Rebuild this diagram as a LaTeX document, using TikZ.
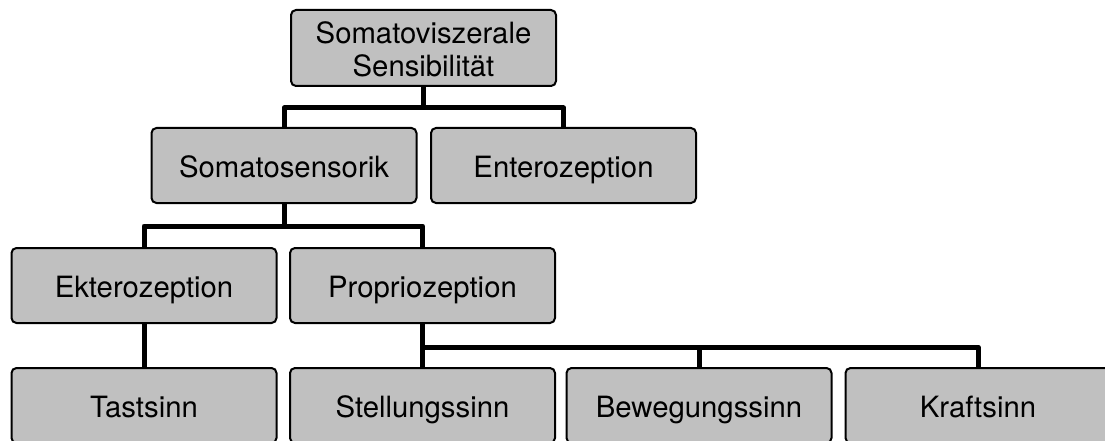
\documentclass[tikz,border=0pt]{standalone}
\usepackage{fontspec}
\setmainfont{TeX Gyre Heros}
\begin{document}
\begin{tikzpicture}[x=1pt,y=-1pt,
  box/.style={draw=black, line width=2pt, fill=boxgray, rounded corners=5pt,
    minimum width=265pt, minimum height=75pt, inner sep=0pt, align=center,
    text height=26pt, text depth=2pt,
    font=\fontsize{29.3}{33}\selectfont},
  link/.style={draw=black, line width=5pt, line join=round}]
\definecolor{boxgray}{RGB}{192,192,192}
\useasboundingbox (0,0) rectangle (1105,441);
\clip (0,0) rectangle (1105,441);
% tree levels
\node[box, minimum height=76pt, text height=59pt] (root) at (423.5,48) {Somatoviszerale\\Sensibilität};
\node[box] (soma)   at (284,165.5)   {Somatosensorik};
\node[box] (entero) at (563.5,165.5) {Enterozeption};
\node[box] (ekt)    at (144,285.5)   {Ekterozeption};
\node[box] (prop)   at (422.5,285.5) {Propriozeption};
\node[box] (tast)   at (144,405.5)   {Tastsinn};
\node[box] (stell)  at (422.5,405.5) {Stellungssinn};
\node[box] (beweg)  at (699,405.5)   {Bewegungssinn};
\node[box] (kraft)  at (978,405.5)   {Kraftsinn};
% connectors
\draw[link] (root.south) -- ++(0,21) -| (soma.north);
\draw[link] (root.south) -- ++(0,21) -| (entero.north);
\draw[link] (soma.south) -- ++(0,22) -| (ekt.north);
\draw[link] (soma.south) -- ++(0,22) -| (prop.north);
\draw[link] (ekt.south) -- (tast.north);
\draw[link] (prop.south) -- (stell.north);
\draw[link] (prop.south) -- ++(0,23) -| (beweg.north);
\draw[link] (prop.south) -- ++(0,23) -| (kraft.north);
\end{tikzpicture}
\end{document}
